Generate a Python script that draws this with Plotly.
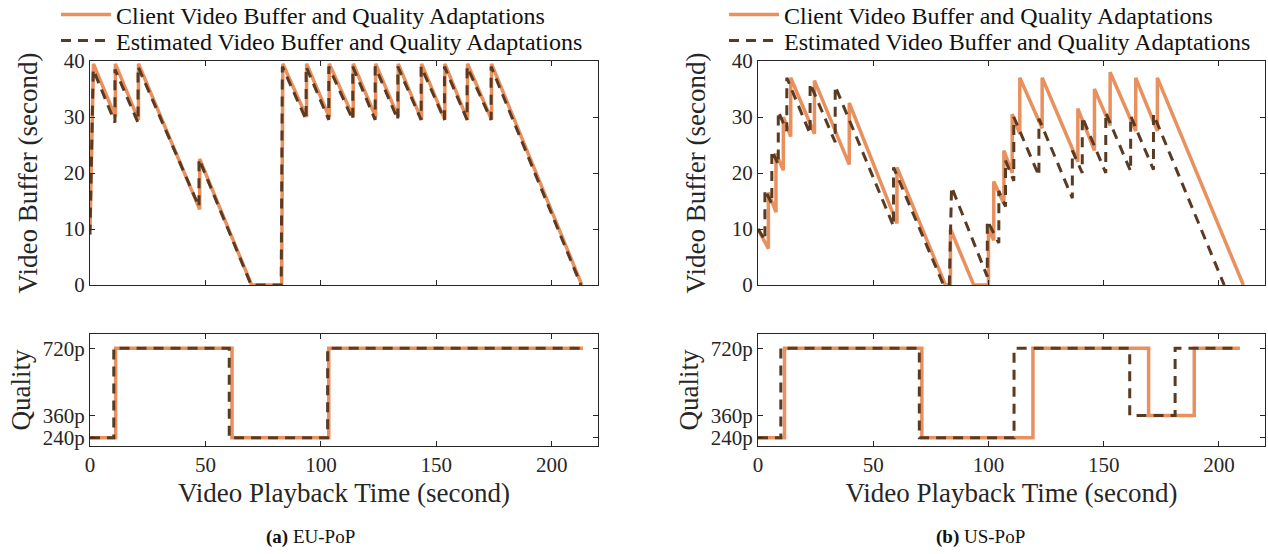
import plotly.graph_objects as go

# ---------------- Data ----------------
# (a) EU-PoP : video buffer (second) vs playback time (second)
eu_client_t = [0, 1.5, 11, 11, 21, 21, 47.5, 47.5, 70, 83, 83.5, 93.8, 93.8, 103.6, 103.6, 114, 114,
               123.7, 123.7, 133.5, 133.5, 143.6, 143.6, 153.7, 153.7, 163.5, 163.5, 173.9, 173.9, 213]
eu_client_b = [10, 39.5, 30, 39.5, 29.5, 39.5, 13.5, 22.5, 0, 0, 39.5, 30, 39.5, 30, 39.5, 30, 39.5,
               30, 39.5, 30, 39.5, 29.5, 39.5, 29.5, 39.5, 29.5, 39.5, 29.5, 39.5, 0]
eu_est_t = [0, 1.4, 10.8, 10.8, 20.8, 20.8, 47.2, 47.2, 69.8, 82.8, 83.3, 93.6, 93.6, 103.4, 103.4, 113.8, 113.8,
            123.5, 123.5, 133.3, 133.3, 143.4, 143.4, 153.5, 153.5, 163.3, 163.3, 173.7, 173.7, 212.6]
eu_est_b = [9, 38.5, 29, 38.5, 29, 39, 14, 22.5, 0, 0, 39, 29.5, 39, 29.5, 39, 29.5, 39,
            29.5, 39, 29.5, 39, 29.5, 39, 29.5, 39, 29.5, 39, 29.5, 39, 0]

# (a) EU-PoP : quality adaptations
eu_q_client_t = [0, 11.1, 11.1, 61.5, 61.5, 103.4, 103.4, 213.5]
eu_q_client_v = [240, 240, 720, 720, 240, 240, 720, 720]
eu_q_est_t = [0, 10.3, 10.3, 60.3, 60.3, 102.9, 102.9, 213.5]
eu_q_est_v = [240, 240, 720, 720, 240, 240, 720, 720]

# (b) US-PoP : video buffer
us_client_t = [0, 4.5, 4.5, 7.8, 7.8, 11, 11, 14.2, 14.2, 24.5, 24.5, 39.6, 39.6, 60.3, 60.3, 81.3, 83.5, 83.5,
               93.6, 100, 100, 102.3, 102.3, 106.7, 106.7, 110.3, 110.3, 113.6, 113.6, 123.3, 123.3,
               138.8, 138.8, 146, 146, 152.8, 152.8, 163.9, 163.9, 173.3, 173.3, 210.6]
us_client_b = [10, 6.5, 16.5, 13, 23.5, 20.5, 30, 26.5, 37, 27, 36.5, 21.5, 32.5, 11, 21, 0, 0, 10,
               0, 0, 10, 8, 18.5, 14.5, 24, 20, 30.5, 27, 37, 28, 37,
               22, 31.5, 24, 35, 28.5, 38, 27.5, 37, 27.5, 37, 0]
us_est_t = [0, 3, 3, 6, 6, 8.8, 8.8, 12.5, 12.5, 22.6, 22.6, 33.5, 33.5, 58.8, 58.8, 80.5, 83, 84,
            99.5, 99.5, 104.5, 104.5, 107.4, 107.4, 111, 111, 121.9, 121.9, 136.4, 136.4, 140.7, 140.7,
            150.9, 150.9, 161.7, 161.7, 171.6, 171.6, 202.3]
us_est_b = [10, 8, 17, 14.5, 24, 21.5, 31, 27.5, 37, 27, 36, 25.5, 35.5, 10.5, 21, 0, 0, 17.5,
            1.5, 11.5, 7.5, 16.8, 14, 22.2, 18.6, 30, 19.5, 29.7, 15.5, 24, 20, 30,
            20, 30.8, 20.3, 30.2, 20.6, 30.5, 0]

# (b) US-PoP : quality adaptations
us_q_client_t = [0, 11.5, 11.5, 71.1, 71.1, 119.3, 119.3, 169.5, 169.5, 189.3, 189.3, 209]
us_q_client_v = [240, 240, 720, 720, 240, 240, 720, 720, 360, 360, 720, 720]
us_q_est_t = [0, 9.9, 9.9, 70, 70, 111.1, 111.1, 161.3, 161.3, 181, 181, 209]
us_q_est_v = [240, 240, 720, 720, 240, 240, 720, 720, 360, 360, 720, 720]

x_ticks = [0, 50, 100, 150, 200]
buf_ticks = [0, 10, 20, 30, 40]
q_ticks = [240, 360, 720]
q_labels = ["240p", "360p", "720p"]

names = ["Client Video Buffer and Quality Adaptations", "Estimated Video Buffer and Quality Adaptations"]
captions = ["<b>(a)</b> EU-PoP", "<b>(b)</b> US-PoP"]

# ---------------- Style ----------------
ORANGE = "#E8915E"
BROWN = "#5B3A22"
AXIS = "#262626"
FONT = "Liberation Serif"
W, H = 1268, 554


def px_x(px):
    return px / W


def px_y(py):
    return 1 - py / H


fig = go.Figure()

panels = [
    dict(buf=(eu_client_t, eu_client_b, eu_est_t, eu_est_b),
         q=(eu_q_client_t, eu_q_client_v, eu_q_est_t, eu_q_est_v),
         xa_top="x", ya_top="y", xa_bot="x2", ya_bot="y2", legends=("legend", "legend2")),
    dict(buf=(us_client_t, us_client_b, us_est_t, us_est_b),
         q=(us_q_client_t, us_q_client_v, us_q_est_t, us_q_est_v),
         xa_top="x3", ya_top="y3", xa_bot="x4", ya_bot="y4", legends=("legend3", "legend4")),
]

for p in panels:
    ct, cb, et, eb = p["buf"]
    fig.add_trace(go.Scatter(x=ct, y=cb, mode="lines", name=names[0], legend=p["legends"][0],
                             line=dict(color=ORANGE, width=3.5), xaxis=p["xa_top"], yaxis=p["ya_top"]))
    fig.add_trace(go.Scatter(x=et, y=eb, mode="lines", name=names[1], legend=p["legends"][1],
                             line=dict(color=BROWN, width=3, dash="10px,7px"),
                             xaxis=p["xa_top"], yaxis=p["ya_top"]))
    qct, qcv, qet, qev = p["q"]
    fig.add_trace(go.Scatter(x=qct, y=qcv, mode="lines", showlegend=False,
                             line=dict(color=ORANGE, width=3.5), xaxis=p["xa_bot"], yaxis=p["ya_bot"]))
    fig.add_trace(go.Scatter(x=qet, y=qev, mode="lines", showlegend=False,
                             line=dict(color=BROWN, width=3, dash="10px,7px"),
                             xaxis=p["xa_bot"], yaxis=p["ya_bot"]))

left_dom = [px_x(90), px_x(598)]
right_dom = [px_x(758), px_x(1265)]
top_dom = [px_y(285), px_y(61)]
bot_dom = [px_y(446), px_y(334)]

common = dict(showline=True, linecolor=AXIS, linewidth=1, mirror="ticks", ticks="inside",
              ticklen=5, tickcolor=AXIS, showgrid=False, zeroline=False, automargin=False,
              tickfont=dict(family=FONT, size=21, color="#262626"))

title_font = dict(family=FONT, size=27, color="#262626")

for i, (xd, xa_t, ya_t, xa_b, ya_b) in enumerate([
        (left_dom, "xaxis", "yaxis", "xaxis2", "yaxis2"),
        (right_dom, "xaxis3", "yaxis3", "xaxis4", "yaxis4")]):
    n_t = "" if i == 0 else "3"
    n_b = "2" if i == 0 else "4"
    fig.update_layout(**{
        xa_t: dict(domain=xd, range=[0, 220], tickvals=x_ticks, showticklabels=False,
                   anchor="y" + n_t, **common),
        ya_t: dict(domain=top_dom, range=[0, 40], tickvals=buf_ticks, anchor="x" + n_t,
                   title=dict(text="Video Buffer (second)", font=title_font, standoff=18), **common),
        xa_b: dict(domain=xd, range=[0, 220], tickvals=x_ticks, anchor="y" + n_b,
                   title=dict(text="Video Playback Time (second)", font=title_font, standoff=6), **common),
        ya_b: dict(domain=bot_dom, range=[196, 797], tickvals=q_ticks, ticktext=q_labels, anchor="x" + n_b,
                   title=dict(text="Quality", font=title_font, standoff=4), **common),
    })

leg_common = dict(bgcolor="rgba(0,0,0,0)", borderwidth=0, font=dict(family=FONT, size=24, color="#111111"),
                  itemwidth=50, tracegroupgap=0, xanchor="left", yanchor="middle", traceorder="normal")
fig.update_layout(
    legend=dict(x=px_x(56), y=px_y(15), **leg_common),
    legend2=dict(x=px_x(56), y=px_y(41), **leg_common),
    legend3=dict(x=px_x(724), y=px_y(15), **leg_common),
    legend4=dict(x=px_x(724), y=px_y(41), **leg_common),
)

for cx, cap in zip([310, 980], captions):
    fig.add_annotation(x=px_x(cx), y=px_y(537), xref="paper", yref="paper", text=cap, showarrow=False,
                       font=dict(family=FONT, size=19, color="#111111"), xanchor="center", yanchor="middle")

fig.update_layout(width=W, height=H, margin=dict(l=0, r=0, t=0, b=0, autoexpand=False),
                  paper_bgcolor="white", plot_bgcolor="white", showlegend=True)

fig.write_html("out.html")
